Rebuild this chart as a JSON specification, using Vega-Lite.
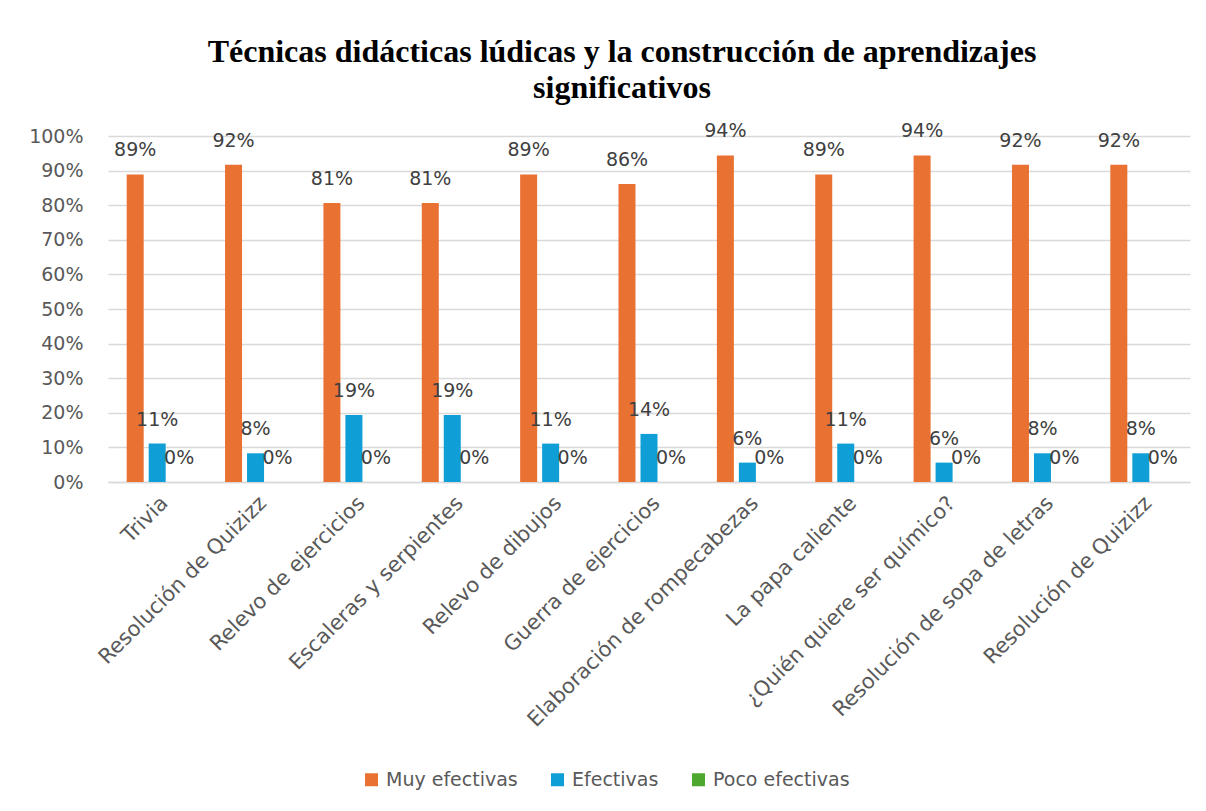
{
  "$schema": "https://vega.github.io/schema/vega-lite/v6.json",
  "width": 1082,
  "height": 346,
  "autosize": {"type": "none"},
  "padding": {"left": 108, "top": 136, "right": 16, "bottom": 329},
  "background": "white",
  "title": {
    "text": ["Técnicas didácticas lúdicas y la construcción de aprendizajes", "significativos"],
    "font": "Liberation Serif",
    "fontSize": 32,
    "fontWeight": "bold",
    "color": "#000000",
    "anchor": "middle",
    "frame": "group",
    "dx": -27,
    "lineHeight": 36,
    "offset": 17
  },
  "config": {
    "view": {"stroke": null},
    "font": "DejaVu Sans"
  },
  "data": {
    "values": [
      {"cat": "Trivia", "serie": "Muy efectivas", "value": 0.889},
      {"cat": "Trivia", "serie": "Efectivas", "value": 0.111},
      {"cat": "Trivia", "serie": "Poco efectivas", "value": 0},
      {"cat": "Resolución de Quizizz", "serie": "Muy efectivas", "value": 0.917},
      {"cat": "Resolución de Quizizz", "serie": "Efectivas", "value": 0.083},
      {"cat": "Resolución de Quizizz", "serie": "Poco efectivas", "value": 0},
      {"cat": "Relevo de ejercicios", "serie": "Muy efectivas", "value": 0.806},
      {"cat": "Relevo de ejercicios", "serie": "Efectivas", "value": 0.194},
      {"cat": "Relevo de ejercicios", "serie": "Poco efectivas", "value": 0},
      {"cat": "Escaleras y serpientes", "serie": "Muy efectivas", "value": 0.806},
      {"cat": "Escaleras y serpientes", "serie": "Efectivas", "value": 0.194},
      {"cat": "Escaleras y serpientes", "serie": "Poco efectivas", "value": 0},
      {"cat": "Relevo de dibujos", "serie": "Muy efectivas", "value": 0.889},
      {"cat": "Relevo de dibujos", "serie": "Efectivas", "value": 0.111},
      {"cat": "Relevo de dibujos", "serie": "Poco efectivas", "value": 0},
      {"cat": "Guerra de ejercicios", "serie": "Muy efectivas", "value": 0.861},
      {"cat": "Guerra de ejercicios", "serie": "Efectivas", "value": 0.139},
      {"cat": "Guerra de ejercicios", "serie": "Poco efectivas", "value": 0},
      {"cat": "Elaboración de rompecabezas", "serie": "Muy efectivas", "value": 0.944},
      {"cat": "Elaboración de rompecabezas", "serie": "Efectivas", "value": 0.056},
      {"cat": "Elaboración de rompecabezas", "serie": "Poco efectivas", "value": 0},
      {"cat": "La papa caliente", "serie": "Muy efectivas", "value": 0.889},
      {"cat": "La papa caliente", "serie": "Efectivas", "value": 0.111},
      {"cat": "La papa caliente", "serie": "Poco efectivas", "value": 0},
      {"cat": "¿Quién quiere ser químico?", "serie": "Muy efectivas", "value": 0.944},
      {"cat": "¿Quién quiere ser químico?", "serie": "Efectivas", "value": 0.056},
      {"cat": "¿Quién quiere ser químico?", "serie": "Poco efectivas", "value": 0},
      {"cat": "Resolución de sopa de letras", "serie": "Muy efectivas", "value": 0.917},
      {"cat": "Resolución de sopa de letras", "serie": "Efectivas", "value": 0.083},
      {"cat": "Resolución de sopa de letras", "serie": "Poco efectivas", "value": 0},
      {"cat": "Resolución de Quizizz ", "serie": "Muy efectivas", "value": 0.917},
      {"cat": "Resolución de Quizizz ", "serie": "Efectivas", "value": 0.083},
      {"cat": "Resolución de Quizizz ", "serie": "Poco efectivas", "value": 0}
    ]
  },
  "encoding": {
    "x": {
      "field": "cat",
      "type": "nominal",
      "sort": null,
      "scale": {"paddingInner": 0.38, "paddingOuter": 0.19},
      "axis": {
        "title": null,
        "labelAngle": -45,
        "labelAlign": "right",
        "labelBaseline": "top",
        "labelFontSize": 21,
        "labelColor": "#595959",
        "labelFont": "DejaVu Sans",
        "labelPadding": 10,
        "labelLimit": 400,
        "ticks": false,
        "domainColor": "#D9D9D9",
        "domainWidth": 1.5
      }
    },
    "xOffset": {
      "field": "serie",
      "type": "nominal",
      "sort": ["Muy efectivas", "Efectivas", "Poco efectivas"],
      "scale": {"paddingInner": 0.227}
    },
    "y": {
      "field": "value",
      "type": "quantitative",
      "scale": {"domain": [0, 1], "nice": false},
      "axis": {
        "title": null,
        "format": ".0%",
        "values": [0, 0.1, 0.2, 0.3, 0.4, 0.5, 0.6, 0.7, 0.8, 0.9, 1],
        "labelFontSize": 19,
        "labelColor": "#595959",
        "labelFont": "DejaVu Sans",
        "labelPadding": 25,
        "ticks": false,
        "domain": false,
        "gridColor": "#D9D9D9",
        "gridWidth": 1.5
      }
    }
  },
  "layer": [
    {
      "mark": {"type": "bar"},
      "encoding": {
        "color": {
          "field": "serie",
          "type": "nominal",
          "sort": ["Muy efectivas", "Efectivas", "Poco efectivas"],
          "scale": {
            "domain": ["Muy efectivas", "Efectivas", "Poco efectivas"],
            "range": ["#E97132", "#0F9ED5", "#4EA72E"]
          },
          "legend": {
            "title": null,
            "orient": "none",
            "direction": "horizontal",
            "legendX": 254,
            "legendY": 634,
            "symbolType": "square",
            "symbolSize": 169,
            "symbolStrokeWidth": 0,
            "labelFontSize": 19,
            "labelColor": "#595959",
            "labelFont": "DejaVu Sans",
            "labelOffset": 5,
            "columnPadding": 30
          }
        }
      }
    },
    {
      "mark": {"type": "text", "baseline": "middle", "dy": -24, "fontSize": 19, "color": "#404040", "font": "DejaVu Sans"},
      "encoding": {
        "text": {"field": "value", "type": "quantitative", "format": ".0%"}
      }
    }
  ]
}
